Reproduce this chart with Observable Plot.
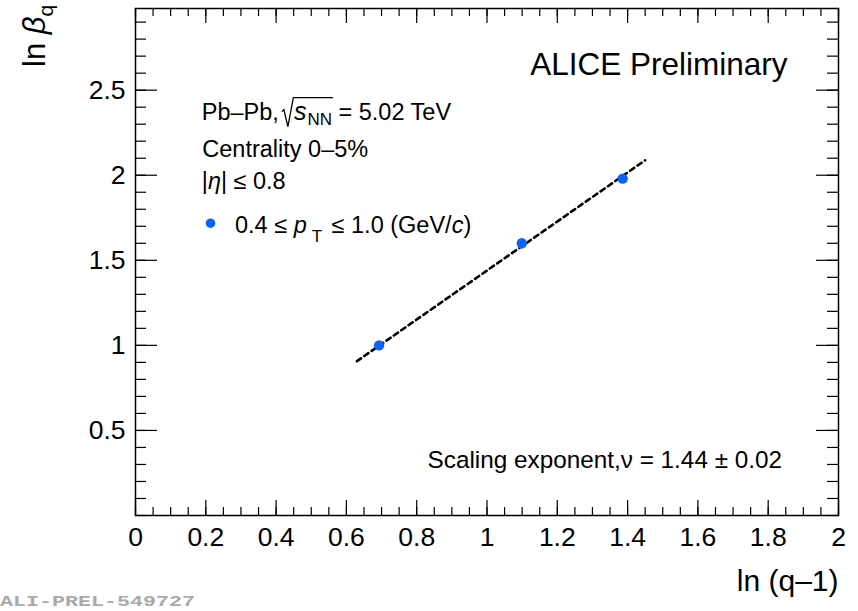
<!DOCTYPE html>
<html><head><meta charset="utf-8">
<script src="https://cdn.jsdelivr.net/npm/d3@7"></script>
<script src="https://cdn.jsdelivr.net/npm/@observablehq/plot@0.6"></script>
<style>html,body{margin:0;padding:0;background:#fff;} svg{display:block;}</style>
</head><body><div id="chart"></div>
<script>
// ---- data ----
const lnQm1 = [0.693, 1.099, 1.386];
const lnBeta = [1.00, 1.60, 1.98];
const fitX = [0.63, 1.45];
const fitY = [0.907, 2.088];
const xTickValues = [0, 0.2, 0.4, 0.6, 0.8, 1, 1.2, 1.4, 1.6, 1.8, 2];
const yTickValues = [0.5, 1, 1.5, 2, 2.5];
const xTitle = "ln (q–1)";
const experimentLabel = "ALICE Preliminary";
const centralityLabel = "Centrality 0–5%";
const scalingLabel = "Scaling exponent,ν = 1.44 ± 0.02";
const figureId = "ALI-PREL-549727";

const FONT = "'Liberation Sans', Arial, Helvetica, sans-serif";
const W = 858, H = 611, ML = 135, MR = 20, MT = 8, MB = 96;
const PW = W - ML - MR, PH = H - MT - MB;
const BLUE = "#0a64f5";

const points = lnQm1.map((x, i) => ({x, y: lnBeta[i]}));
const fit = fitX.map((x, i) => ({x, y: fitY[i]}));
const xMinor = d3.range(0, 2.0001, 0.05);
const yMinor = d3.range(0, 2.9801, 0.1);

const plot = Plot.plot({
  width: W, height: H,
  marginLeft: ML, marginRight: MR, marginTop: MT, marginBottom: MB,
  x: {domain: [0, 2]},
  y: {domain: [0, 2.98]},
  style: {fontFamily: FONT, color: "black", background: "white", overflow: "visible"},
  marks: [
    // ticks (bottom/top/left/right)
    Plot.tickX(xTickValues, {x: d => d, insetTop: PH - 15, stroke: "black", strokeWidth: 1.2}),
    Plot.tickX(xMinor, {x: d => d, insetTop: PH - 8, stroke: "black", strokeWidth: 1.2}),
    Plot.tickX(xTickValues, {x: d => d, insetBottom: PH - 15, stroke: "black", strokeWidth: 1.2}),
    Plot.tickX(xMinor, {x: d => d, insetBottom: PH - 8, stroke: "black", strokeWidth: 1.2}),
    Plot.tickY(yTickValues, {y: d => d, insetRight: PW - 22, stroke: "black", strokeWidth: 1.2}),
    Plot.tickY(yMinor, {y: d => d, insetRight: PW - 11, stroke: "black", strokeWidth: 1.2}),
    Plot.tickY(yTickValues, {y: d => d, insetLeft: PW - 22, stroke: "black", strokeWidth: 1.2}),
    Plot.tickY(yMinor, {y: d => d, insetLeft: PW - 11, stroke: "black", strokeWidth: 1.2}),
    Plot.frame({stroke: "black", strokeWidth: 1.5}),
    Plot.axisX(xTickValues, {tickSize: 0, tickPadding: 12, fontSize: 26.5, label: null, tickFormat: d => String(d)}),
    Plot.axisY(yTickValues, {tickSize: 0, tickPadding: 10, fontSize: 26.5, label: null, tickFormat: d => String(d)}),
    Plot.text([xTitle], {frameAnchor: "bottom-right", dy: 75, textAnchor: "end", lineAnchor: "bottom", fontSize: 30, fill: "black"}),
    // fit line + points
    Plot.line(fit, {x: "x", y: "y", stroke: "black", strokeWidth: 2.6, strokeDasharray: "5,4"}),
    Plot.dot(points, {x: "x", y: "y", r: 5.2, fill: BLUE, stroke: null}),
    // annotations
    Plot.text([experimentLabel], {x: 1.855, y: 2.588, textAnchor: "end", lineAnchor: "bottom", fontSize: 31.5, fill: "black"}),
    Plot.text([centralityLabel], {x: 0.19, y: 2.106, textAnchor: "start", lineAnchor: "bottom", fontSize: 23.5, fill: "black"}),
    Plot.dot([0], {x: 0.2134, y: 1.718, r: 4.8, fill: BLUE, stroke: null}),
    Plot.text([scalingLabel], {x: 0.831, y: 0.282, textAnchor: "start", lineAnchor: "bottom", fontSize: 24.3, fill: "black"})
  ]
});
document.getElementById("chart").append(plot);

const xs = plot.scale("x"), ys = plot.scale("y");
const svg = d3.select(plot);

function rich(parts, x, y, size, transform) {
  const t = svg.append("text").attr("x", x).attr("y", y)
    .attr("text-anchor", "start")
    .attr("font-size", size).attr("font-family", FONT).attr("fill", "black");
  if (transform) t.attr("transform", transform);
  let shift = 0;
  for (const p of parts) {
    const s = t.append("tspan").text(p.t);
    const target = p.sub || 0;
    const dy = target - shift; shift = target;
    if (dy) s.attr("dy", dy);
    if (p.dx) s.attr("dx", p.dx);
    if (p.i) s.attr("font-style", "italic");
    if (p.size) s.attr("font-size", p.size);
  }
  return t;
}

// Pb–Pb, sqrt(s_NN) = 5.02 TeV
const l1x = xs.apply(0.19), l1y = ys.apply(2.324);
const t1 = rich([{t: "Pb–Pb,"}, {t: "s", i: true, dx: 15, size: 25}, {t: "NN", sub: 5, size: 17, dx: 1}, {t: " = 5.02 TeV"}], l1x, l1y, 23.5);
{
  const n = t1.node();
  const c = n.getEndPositionOfChar(5).x;
  const s0 = n.getStartPositionOfChar(6).x;
  const e = n.getEndPositionOfChar(8).x;
  const b = l1y;
  svg.append("path")
    .attr("d", `M${c + 3},${b - 8} L${c + 5},${b - 10} L${c + 9},${b + 7} L${s0 - 0.5},${b - 22} L${e + 1},${b - 22}`)
    .attr("fill", "none").attr("stroke", "black").attr("stroke-width", 1.3);
}
// |eta| <= 0.8
rich([{t: "|"}, {t: "η", i: true}, {t: "| ≤ 0.8"}], xs.apply(0.19), ys.apply(1.918), 23.5);
// legend entry
rich([{t: "0.4 ≤ "}, {t: "p", i: true}, {t: "T", sub: 9, size: 17, dx: 5}, {t: " ≤ 1.0 (GeV/", dx: 3}, {t: "c", i: true}, {t: ")"}],
  xs.apply(0.2845), ys.apply(1.659), 23.5);
// y-axis title
rich([{t: "ln "}, {t: "β", i: true}, {t: "q", sub: 8, size: 21}], 0, 0, 31, "translate(45,67) rotate(-90)");
// figure id
svg.append("text").attr("x", 0).attr("y", 606).text(figureId)
  .attr("text-anchor", "start")
  .attr("font-family", "'Liberation Mono', 'Courier New', monospace").attr("font-weight", "bold")
  .attr("font-size", 14).attr("fill", "#aaaaaa")
  .attr("textLength", 195).attr("lengthAdjust", "spacingAndGlyphs");
</script>
</body></html>
